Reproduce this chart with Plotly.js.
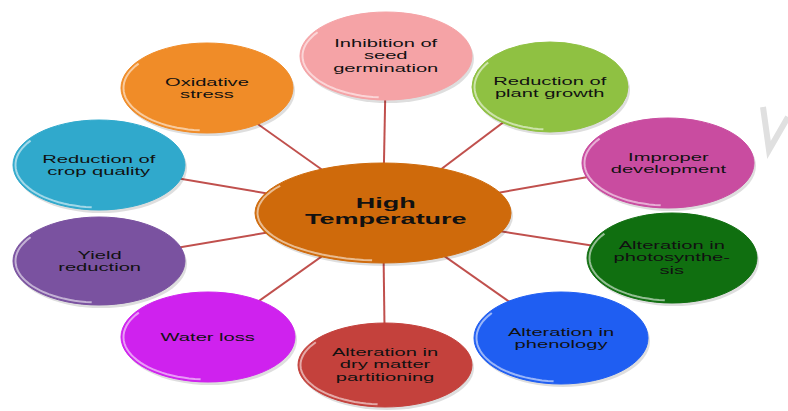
<!DOCTYPE html>
<html>
<head>
<meta charset="utf-8">
<script src="https://cdn.plot.ly/plotly-3.0.1.min.js"></script>
<style>
  html, body { margin: 0; padding: 0; background: #ffffff; }
  #chart { width: 788px; height: 411px; }
</style>
</head>
<body>
<div id="chart"></div>
<script>
// ---- content ----
const centerLabel = ["High", "Temperature"];
const centerColor = "#cf6a0b";

const nodeLabels = [
  ["Inhibition of", "seed", "germination"],
  ["Reduction of", "plant growth"],
  ["Improper", "development"],
  ["Alteration in", "photosynthe-", "sis"],
  ["Alteration in", "phenology"],
  ["Alteration in", "dry matter", "partitioning"],
  ["Water loss"],
  ["Yield", "reduction"],
  ["Reduction of", "crop quality"],
  ["Oxidative", "stress"]
];
const nodeColors = [
  "#f5a3a6", "#8fc142", "#c94ca0", "#106f10", "#1f5ef2",
  "#c4413c", "#cf22ee", "#7a52a0", "#30a9cc", "#f08c28"
];

// ---- layout geometry (pixel space) ----
const centerPos = {cx: 383, cy: 213, rx: 128, ry: 50};
const nodeCx = [386, 550, 668, 672, 561, 385, 208, 99, 99, 207];
const nodeCy = [56, 87, 163, 258, 338, 365, 337, 261, 165, 88];
const nodeRx = [86, 78, 86, 85, 87, 87, 87, 86, 86, 86];
const nodeRy = [44, 45, 45, 45, 46, 42, 45, 44, 45, 45];

const W = 788, H = 411;
const NODE_FS = 11, NODE_LH = 12.6, NODE_STRETCH = 1.83;
const CENTER_FS = 14, CENTER_LH = 16, CENTER_STRETCH = 1.93;
const shapes = [];
const annotations = [];

// connectors
for (let i = 0; i < nodeCx.length; i++) {
  shapes.push({type: "line", xref: "x", yref: "y",
    x0: centerPos.cx, y0: centerPos.cy, x1: nodeCx[i], y1: nodeCy[i],
    line: {color: "#c0504d", width: 2}});
}

function rimPath(cx, cy, rx, ry, a0, a1) {
  let d = "";
  const n = 30;
  for (let k = 0; k <= n; k++) {
    const a = (a0 + (a1 - a0) * k / n) * Math.PI / 180;
    const x = cx + (rx - 2.5) * Math.cos(a);
    const y = cy + (ry - 2.5) * Math.sin(a);
    d += (k === 0 ? "M" : "L") + x.toFixed(1) + "," + y.toFixed(1);
  }
  return d;
}

function addEllipse(cx, cy, rx, ry, color) {
  shapes.push({type: "circle", xref: "x", yref: "y",
    x0: cx - rx + 2, x1: cx + rx + 2, y0: cy - ry + 3, y1: cy + ry + 3,
    fillcolor: "rgba(0,0,0,0.13)", line: {width: 0}});
  shapes.push({type: "circle", xref: "x", yref: "y",
    x0: cx - rx, x1: cx + rx, y0: cy - ry, y1: cy + ry,
    fillcolor: color, line: {color: color, width: 1}});
  shapes.push({type: "path", xref: "x", yref: "y",
    path: rimPath(cx, cy, rx, ry, 95, 215),
    line: {color: "rgba(255,255,255,0.55)", width: 2}});
}

addEllipse(centerPos.cx, centerPos.cy, centerPos.rx, centerPos.ry, centerColor);
for (let i = 0; i < nodeCx.length; i++) {
  addEllipse(nodeCx[i], nodeCy[i], nodeRx[i], nodeRy[i], nodeColors[i]);
}

for (let i = 0; i < nodeLabels.length; i++) {
  annotations.push({xref: "x", yref: "y",
    x: nodeCx[i], y: nodeCy[i] - 0.5,
    text: nodeLabels[i].join("<br>"), showarrow: false,
    xanchor: "center", yanchor: "middle", align: "center",
    font: {family: "Liberation Sans, Arial, sans-serif", size: NODE_FS, color: "#111111"}});
}
annotations.push({xref: "x", yref: "y",
  x: centerPos.cx + 3, y: centerPos.cy - 2,
  text: centerLabel.map(s => "<b>" + s + "</b>").join("<br>"), showarrow: false,
  xanchor: "center", yanchor: "middle", align: "center",
  font: {family: "Liberation Sans, Arial, sans-serif", size: CENTER_FS, color: "#111111"}});

// faint watermark stroke at right edge
shapes.push({type: "path", xref: "x", yref: "y",
  path: "M763,107 L769,150 L788,117",
  line: {color: "#e0e0e0", width: 6}});

const layout = {
  width: W, height: H,
  margin: {l: 0, r: 0, t: 0, b: 0},
  paper_bgcolor: "#ffffff", plot_bgcolor: "#ffffff",
  xaxis: {range: [0, W], visible: false, fixedrange: true},
  yaxis: {range: [H, 0], visible: false, fixedrange: true},
  showlegend: false,
  shapes: shapes,
  annotations: annotations
};

Plotly.newPlot("chart", [{x: [], y: [], type: "scatter", mode: "markers", hoverinfo: "skip"}],
  layout, {displayModeBar: false, staticPlot: true}).then(function () {
  // the reference artwork is horizontally stretched with tight line spacing
  document.querySelectorAll("#chart text.annotation-text").forEach(function (t) {
    const isCenter = t.textContent.indexOf("Temperature") >= 0;
    const fs = isCenter ? CENTER_FS : NODE_FS;
    const lh = isCenter ? CENTER_LH : NODE_LH;
    const lines = t.querySelectorAll("tspan.line");
    const n = lines.length;
    lines.forEach(function (ln, k) { ln.setAttribute("dy", (k * lh) + "px"); });
    const shift = n > 1 ? (n - 1) * (1.3 * fs - lh) / 2 : 0;
    t.style.transformBox = "fill-box";
    t.style.transformOrigin = "center";
    t.style.transform = "translateY(" + shift.toFixed(2) + "px) scaleX(" +
      (isCenter ? CENTER_STRETCH : NODE_STRETCH) + ")";
  });
});
</script>
</body>
</html>
